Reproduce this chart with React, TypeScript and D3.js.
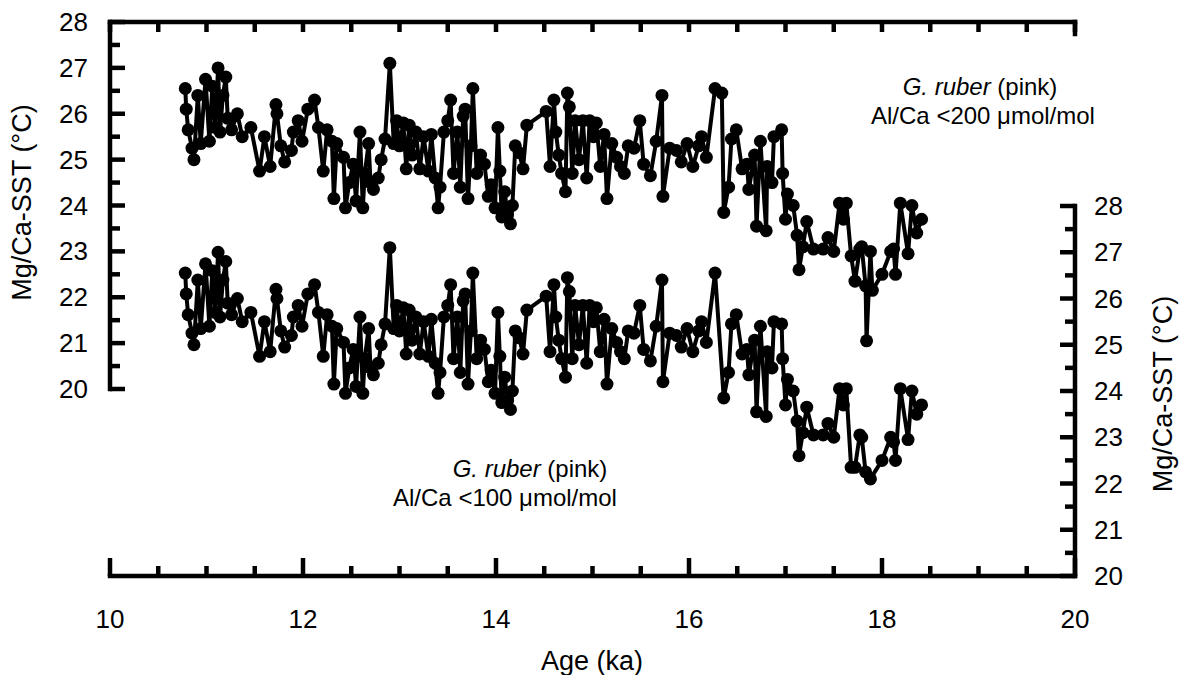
import React from "react";
import * as d3 from "d3";

// Al/Ca < 200 µmol/mol series (left axis) [age ka, Mg/Ca-SST °C]
const seriesAl200: [number, number][] = [
  [10.78, 26.55], [10.79, 26.1], [10.81, 25.65], [10.85, 25.25], [10.87, 25.0], [10.91, 26.4],
  [10.94, 25.35], [10.99, 26.75], [11.03, 25.4], [11.06, 26.6], [11.09, 25.7], [11.12, 27.0],
  [11.14, 25.6], [11.17, 26.4], [11.2, 26.8], [11.22, 25.9], [11.26, 25.65], [11.32, 26.0],
  [11.37, 25.5], [11.46, 25.7], [11.55, 24.75], [11.6, 25.5], [11.66, 24.85], [11.72, 26.2],
  [11.73, 26.0], [11.77, 25.3], [11.81, 24.95], [11.88, 25.2], [11.9, 25.6], [11.95, 25.85],
  [11.99, 25.4], [12.05, 26.1], [12.12, 26.3], [12.16, 25.7], [12.21, 24.75], [12.25, 25.65],
  [12.3, 25.4], [12.32, 24.15], [12.35, 25.35], [12.42, 25.05], [12.44, 23.95], [12.48, 24.5],
  [12.52, 24.9], [12.55, 24.1], [12.59, 25.6], [12.62, 23.95], [12.64, 24.7], [12.68, 25.35],
  [12.7, 24.5], [12.73, 24.35], [12.78, 24.6], [12.81, 25.0], [12.85, 25.45], [12.9, 27.1],
  [12.94, 25.35], [12.97, 25.85], [13.0, 25.3], [13.04, 25.8], [13.07, 24.8], [13.1, 25.75],
  [13.13, 25.1], [13.17, 25.6], [13.21, 24.8], [13.25, 25.5], [13.3, 24.75], [13.33, 25.55],
  [13.37, 24.6], [13.4, 23.95], [13.42, 24.4], [13.46, 25.6], [13.5, 25.85], [13.53, 26.3],
  [13.56, 24.7], [13.6, 25.6], [13.63, 24.4], [13.66, 25.95], [13.68, 26.1], [13.71, 24.15],
  [13.74, 25.3], [13.76, 26.55], [13.8, 24.7], [13.84, 25.1], [13.88, 24.9], [13.92, 24.2],
  [13.95, 24.45], [13.99, 23.95], [14.02, 25.7], [14.04, 24.75], [14.06, 23.75], [14.09, 24.3],
  [14.12, 23.8], [14.15, 23.6], [14.17, 24.0], [14.2, 25.3], [14.24, 25.15], [14.28, 24.8],
  [14.32, 25.75], [14.52, 26.05], [14.56, 24.85], [14.6, 26.3], [14.62, 25.6], [14.65, 25.1],
  [14.68, 24.7], [14.72, 24.3], [14.74, 26.45], [14.76, 26.15], [14.79, 24.7], [14.82, 25.85],
  [14.86, 25.0], [14.9, 25.85], [14.94, 24.6], [14.97, 25.85], [15.01, 25.5], [15.04, 25.8],
  [15.08, 24.85], [15.12, 25.55], [15.15, 24.15], [15.2, 25.35], [15.25, 25.05], [15.29, 24.85],
  [15.33, 24.7], [15.37, 25.3], [15.43, 25.25], [15.49, 25.85], [15.53, 24.9], [15.6, 24.65],
  [15.66, 25.4], [15.72, 26.4], [15.73, 24.2], [15.8, 25.25], [15.87, 25.2], [15.92, 24.95],
  [15.98, 25.35], [16.04, 24.85], [16.1, 25.3], [16.13, 25.5], [16.18, 25.05], [16.27, 26.55],
  [16.34, 26.45], [16.36, 23.85], [16.41, 24.4], [16.44, 25.45], [16.49, 25.65], [16.55, 24.8],
  [16.6, 24.9], [16.62, 24.35], [16.68, 25.1], [16.7, 23.55], [16.74, 25.4], [16.8, 23.45],
  [16.81, 24.85], [16.86, 24.5], [16.88, 25.5], [16.96, 25.65], [16.97, 24.7], [17.0, 23.7],
  [17.02, 24.25], [17.08, 24.0], [17.12, 23.35], [17.14, 22.6], [17.18, 23.1], [17.22, 23.65],
  [17.29, 23.05], [17.39, 23.05], [17.44, 23.3], [17.5, 23.0], [17.56, 24.05], [17.6, 23.7],
  [17.63, 24.05], [17.68, 22.9], [17.72, 22.35], [17.77, 23.05], [17.79, 23.1], [17.83, 22.25],
  [17.84, 21.05], [17.88, 23.0], [17.9, 22.15], [18.0, 22.5], [18.09, 23.0], [18.12, 23.05],
  [18.14, 22.5], [18.19, 24.05], [18.27, 22.95], [18.31, 24.0], [18.36, 23.4], [18.41, 23.7],
];

// Al/Ca < 100 µmol/mol series (right axis) [age ka, Mg/Ca-SST °C]
const seriesAl100: [number, number][] = [
  [10.78, 26.55], [10.79, 26.1], [10.81, 25.65], [10.85, 25.25], [10.87, 25.0], [10.91, 26.4],
  [10.94, 25.35], [10.99, 26.75], [11.03, 25.4], [11.06, 26.6], [11.09, 25.7], [11.12, 27.0],
  [11.14, 25.6], [11.17, 26.4], [11.2, 26.8], [11.22, 25.9], [11.26, 25.65], [11.32, 26.0],
  [11.37, 25.5], [11.46, 25.7], [11.55, 24.75], [11.6, 25.5], [11.66, 24.85], [11.72, 26.2],
  [11.73, 26.0], [11.77, 25.3], [11.81, 24.95], [11.88, 25.2], [11.9, 25.6], [11.95, 25.85],
  [11.99, 25.4], [12.05, 26.1], [12.12, 26.3], [12.16, 25.7], [12.21, 24.75], [12.25, 25.65],
  [12.3, 25.4], [12.32, 24.15], [12.35, 25.35], [12.42, 25.05], [12.44, 23.95], [12.48, 24.5],
  [12.52, 24.9], [12.55, 24.1], [12.59, 25.6], [12.62, 23.95], [12.64, 24.7], [12.68, 25.35],
  [12.7, 24.5], [12.73, 24.35], [12.78, 24.6], [12.81, 25.0], [12.85, 25.45], [12.9, 27.1],
  [12.94, 25.35], [12.97, 25.85], [13.0, 25.3], [13.04, 25.8], [13.07, 24.8], [13.1, 25.75],
  [13.13, 25.1], [13.17, 25.6], [13.21, 24.8], [13.25, 25.5], [13.3, 24.75], [13.33, 25.55],
  [13.37, 24.6], [13.4, 23.95], [13.42, 24.4], [13.46, 25.6], [13.5, 25.85], [13.53, 26.3],
  [13.56, 24.7], [13.6, 25.6], [13.63, 24.4], [13.66, 25.95], [13.68, 26.1], [13.71, 24.15],
  [13.74, 25.3], [13.76, 26.55], [13.8, 24.7], [13.84, 25.1], [13.88, 24.9], [13.92, 24.2],
  [13.95, 24.45], [13.99, 23.95], [14.02, 25.7], [14.04, 24.75], [14.06, 23.75], [14.09, 24.3],
  [14.12, 23.8], [14.15, 23.6], [14.17, 24.0], [14.2, 25.3], [14.24, 25.15], [14.28, 24.8],
  [14.32, 25.75], [14.52, 26.05], [14.56, 24.85], [14.6, 26.3], [14.62, 25.6], [14.65, 25.1],
  [14.68, 24.7], [14.72, 24.3], [14.74, 26.45], [14.76, 26.15], [14.79, 24.7], [14.82, 25.85],
  [14.86, 25.0], [14.9, 25.85], [14.94, 24.6], [14.97, 25.85], [15.01, 25.5], [15.04, 25.8],
  [15.08, 24.85], [15.12, 25.55], [15.15, 24.15], [15.2, 25.35], [15.25, 25.05], [15.29, 24.85],
  [15.33, 24.7], [15.37, 25.3], [15.43, 25.25], [15.49, 25.85], [15.53, 24.9], [15.6, 24.65],
  [15.66, 25.4], [15.72, 26.4], [15.73, 24.2], [15.8, 25.25], [15.87, 25.2], [15.92, 24.95],
  [15.98, 25.35], [16.04, 24.85], [16.1, 25.3], [16.13, 25.5], [16.18, 25.05], [16.27, 26.55],
  [16.36, 23.85], [16.41, 24.4], [16.44, 25.45], [16.49, 25.65], [16.55, 24.8],
  [16.6, 24.9], [16.62, 24.35], [16.68, 25.1], [16.7, 23.55], [16.74, 25.4], [16.8, 23.45],
  [16.81, 24.85], [16.86, 24.5], [16.88, 25.5], [16.96, 25.45], [16.97, 24.7], [17.0, 23.7],
  [17.02, 24.25], [17.08, 24.0], [17.12, 23.35], [17.14, 22.6], [17.18, 23.1], [17.22, 23.65],
  [17.29, 23.05], [17.39, 23.05], [17.44, 23.3], [17.5, 23.0], [17.56, 24.05], [17.6, 23.7],
  [17.63, 24.05], [17.68, 22.35], [17.72, 22.35], [17.77, 23.05], [17.79, 23.0], [17.83, 22.25],
  [17.88, 22.1], [18.0, 22.5], [18.09, 23.0], [18.12, 22.9],
  [18.14, 22.5], [18.19, 24.05], [18.27, 22.95], [18.31, 24.0], [18.36, 23.5], [18.41, 23.7],
];

const xTickLabels = [10, 12, 14, 16, 18, 20];
const yTickLabels = [20, 21, 22, 23, 24, 25, 26, 27, 28];

const W = 1187;
const H = 675;
const FONT = "'Liberation Sans', Arial, Helvetica, sans-serif";

export default function App() {
  const x = d3.scaleLinear().domain([10, 20]).range([110, 1075]);
  const yL = d3.scaleLinear().domain([20, 28]).range([389, 22]);
  const yR = d3.scaleLinear().domain([20, 28]).range([576, 206]);

  const lineL = d3.line<[number, number]>().x((d) => x(d[0])).y((d) => yL(d[1]));
  const lineR = d3.line<[number, number]>().x((d) => x(d[0])).y((d) => yR(d[1]));

  const xMinor = d3.range(10, 20.001, 0.5);
  const yMinor = d3.range(20, 28.001, 0.5);

  const x0 = x(10), x1 = x(20);
  const sw = 4.5;
  const mr = 6.5;

  return (
    <svg width={W} height={H} style={{ position: "absolute", left: 0, top: 0, background: "#fff" }}
      fontFamily={FONT}>
      {/* frame lines */}
      <g stroke="#000" strokeWidth={sw} fill="none" strokeLinecap="square">
        <line x1={x0} x2={x0} y1={yL(28)} y2={yL(20)} />
        <line x1={x0} x2={x1} y1={yL(28)} y2={yL(28)} />
        <line x1={x0} x2={x1} y1={yR(20)} y2={yR(20)} />
        <line x1={x1} x2={x1} y1={yR(28)} y2={yR(20)} />
        <line x1={x1} x2={x1} y1={yL(28)} y2={yL(28) + 12} />
      </g>
      {/* ticks */}
      <g stroke="#000" strokeWidth={sw}>
        {yMinor.map((v) => {
          const major = Math.abs(v - Math.round(v)) < 1e-6;
          const len = major ? 15 : 10;
          return (
            <g key={"y" + v}>
              <line x1={x0} x2={x0 + len} y1={yL(v)} y2={yL(v)} />
              <line x1={x1} x2={x1 - len} y1={yR(v)} y2={yR(v)} />
            </g>
          );
        })}
        {xMinor.map((v) => {
          const major = Math.abs(v / 2 - Math.round(v / 2)) < 1e-6;
          return (
            <g key={"x" + v}>
              <line x1={x(v)} x2={x(v)} y1={yR(20)} y2={yR(20) - (major ? 18 : 10)} />
              <line x1={x(v)} x2={x(v)} y1={yL(28)} y2={yL(28) + 10} />
            </g>
          );
        })}
      </g>
      {/* tick labels */}
      <g fontSize={26} fill="#000">
        {yTickLabels.map((v) => (
          <text key={"l" + v} x={88} y={yL(v)} dy="0.35em" textAnchor="end">{v}</text>
        ))}
        {yTickLabels.map((v) => (
          <text key={"r" + v} x={1094} y={yR(v)} dy="0.35em" textAnchor="start">{v}</text>
        ))}
        {xTickLabels.map((v) => (
          <text key={"b" + v} x={x(v)} y={628} textAnchor="middle">{v}</text>
        ))}
      </g>
      {/* axis titles */}
      <text x={592} y={670} fontSize={27} textAnchor="middle">Age (ka)</text>
      <text transform={`translate(22,${yL(24) - 3}) rotate(-90)`} fontSize={27} textAnchor="middle" dy="0.35em">Mg/Ca-SST (°C)</text>
      <text transform={`translate(1163,${yR(24) + 3}) rotate(-90)`} fontSize={27} textAnchor="middle" dy="0.35em">Mg/Ca-SST (°C)</text>

      {/* series */}
      <path d={lineL(seriesAl200) || ""} fill="none" stroke="#000" strokeWidth={4} strokeLinejoin="round" />
      {seriesAl200.map((d, i) => (
        <circle key={"a" + i} cx={x(d[0])} cy={yL(d[1])} r={mr} fill="#000" />
      ))}
      <path d={lineR(seriesAl100) || ""} fill="none" stroke="#000" strokeWidth={4} strokeLinejoin="round" />
      {seriesAl100.map((d, i) => (
        <circle key={"b" + i} cx={x(d[0])} cy={yR(d[1])} r={mr} fill="#000" />
      ))}

      {/* annotations */}
      <g fontSize={24} fill="#000">
        <text x={980} y={95} textAnchor="middle">
          <tspan fontStyle="italic">G. ruber</tspan> (pink)
        </text>
        <text x={983} y={124} textAnchor="middle">Al/Ca &lt;200 μmol/mol</text>
        <text x={530} y={477} textAnchor="middle">
          <tspan fontStyle="italic">G. ruber</tspan> (pink)
        </text>
        <text x={505} y={506} textAnchor="middle">Al/Ca &lt;100 μmol/mol</text>
      </g>
    </svg>
  );
}
